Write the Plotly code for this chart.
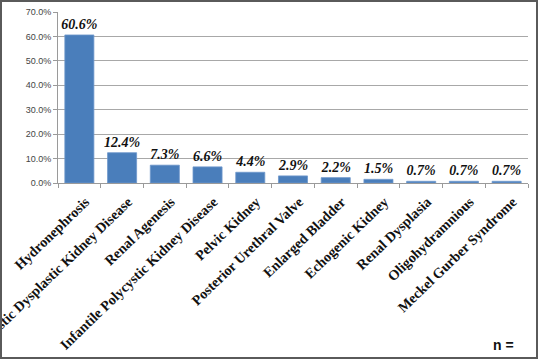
import plotly.graph_objects as go

categories = ["Hydronephrosis", "Multicystic Dysplastic Kidney Disease", "Renal Agenesis",
              "Infantile Polycystic Kidney Disease", "Pelvic Kidney", "Posterior Urethral Valve",
              "Enlarged Bladder", "Echogenic Kidney", "Renal Dysplasia", "Oligohydramnious",
              "Meckel Gurber Syndrome"]
values = [60.6, 12.4, 7.3, 6.6, 4.4, 2.9, 2.2, 1.5, 0.7, 0.7, 0.7]
y_ticks = [0, 10, 20, 30, 40, 50, 60, 70]

W, H = 538, 359
L, R, T, B = 58, 10, 12, 176
pw, ph = W - L - R, H - T - B

fig = go.Figure(go.Bar(
    x=categories, y=values,
    marker=dict(color="#4a7ebb", line=dict(color="#6f98cc", width=0.8)),
    text=[f"{v:.1f}%" for v in values], textposition="outside", constraintext="none",
    textfont=dict(family="Liberation Serif", size=14, color="#111111", weight="bold", style="italic"),
    cliponaxis=False, width=0.68, hoverinfo="skip",
))

fig.update_layout(
    width=W, height=H, margin=dict(l=L, r=R, t=T, b=B, autoexpand=False),
    paper_bgcolor="white", plot_bgcolor="white", showlegend=False,
    xaxis=dict(tickangle=-44, automargin=False, ticklabelstandoff=4, ticklabelshift=6,
               tickfont=dict(family="Liberation Serif", size=14.2, color="#111111", weight="bold"),
               showline=True, linecolor="#9a9a9a", linewidth=1, ticks="outside", ticklen=4,
               tickcolor="#9a9a9a", tickson="boundaries", showgrid=False),
    yaxis=dict(range=[0, 70], tickvals=y_ticks, ticktext=[f"{v:.1f}%" for v in y_ticks], automargin=False,
               tickfont=dict(family="Liberation Sans", size=9, color="#444444"),
               showgrid=True, gridcolor="#a8a8a8", gridwidth=1, zeroline=False,
               showline=True, linecolor="#9a9a9a", ticks="outside", ticklen=4, tickcolor="#9a9a9a"),
    bargap=0.3,
)

fig.add_shape(type="rect", xref="paper", yref="paper",
              x0=-(L - 1) / pw, x1=1 + (R - 1) / pw, y0=-(B - 1) / ph, y1=1 + (T - 1) / ph,
              line=dict(color="#5a5a5a", width=2), layer="above")

fig.add_annotation(text="<b>n =</b>", xref="paper", yref="paper",
                   x=1 + (R - 22) / pw, y=-(B - 14) / ph, xanchor="right", yanchor="middle",
                   showarrow=False, font=dict(family="Liberation Sans", size=14, color="#111111"))

fig.write_html("out.html", config={"displayModeBar": False},
               post_script="document.body.style.margin='0';document.body.style.overflow='hidden';")
